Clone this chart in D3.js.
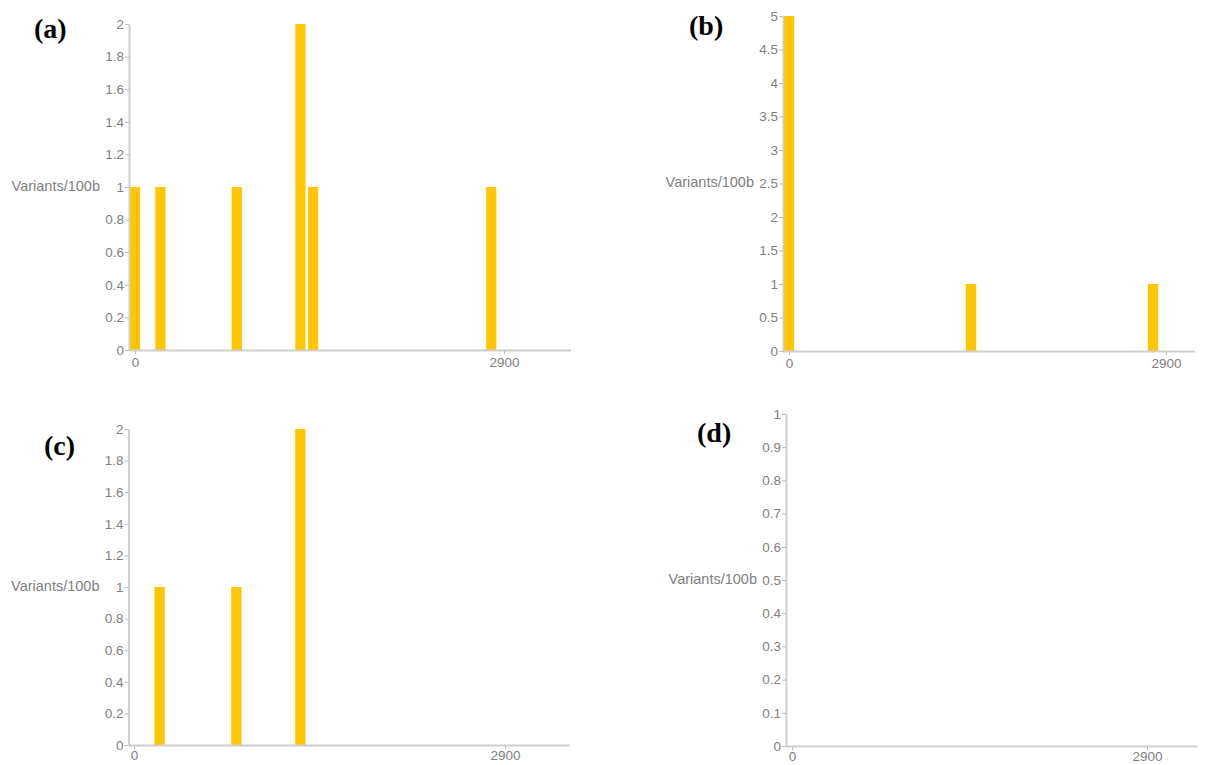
<!DOCTYPE html>
<html>
<head>
<meta charset="utf-8">
<script src="https://cdn.jsdelivr.net/npm/d3@7"></script>
<style>
  body { margin: 0; background: #fff; }
  .tick text { font-family: "Liberation Sans", Arial, sans-serif; }
</style>
</head>
<body>
<div id="chart"></div>
<script>
const width = 1210;
const height = 765;

// variant positions (bp, bin start) and counts per 100b, one pair per panel
const posA = [0, 200, 800, 1300, 1400, 2800];
const valA = [1, 1, 1, 2, 1, 1];
const posB = [0, 1400, 2800];
const valB = [5, 1, 1];
const posC = [200, 800, 1300];
const valC = [1, 1, 2];
const posD = [];
const valD = [];

const yTicksA = [0, 0.2, 0.4, 0.6, 0.8, 1, 1.2, 1.4, 1.6, 1.8, 2];
const yTicksB = [0, 0.5, 1, 1.5, 2, 2.5, 3, 3.5, 4, 4.5, 5];
const yTicksC = [0, 0.2, 0.4, 0.6, 0.8, 1, 1.2, 1.4, 1.6, 1.8, 2];
const yTicksD = [0, 0.1, 0.2, 0.3, 0.4, 0.5, 0.6, 0.7, 0.8, 0.9, 1];
const xTicks = [0, 2900];
const panelNames = ["(a)", "(b)", "(c)", "(d)"];
const yLabel = "Variants/100b";

const barColor = "#ffc600";
const binWidth = 80;

// screen layout of each panel (the source figure is a collage of 4 screenshots)
const layout = [
  {axisX: 129, zeroX: 135, tickX: 504, endX: 571, top: 24, bottom: 350, tx: 34, ty: 38, pad: 3},
  {axisX: 783, zeroX: 789, tickX: 1166, endX: 1195, top: 16, bottom: 351, tx: 689, ty: 35, pad: 3},
  {axisX: 128.5, zeroX: 134, tickX: 505, endX: 570, top: 429, bottom: 745, tx: 44, ty: 455, pad: 1},
  {axisX: 786, zeroX: 792, tickX: 1147, endX: 1198, top: 414, bottom: 746, tx: 697, ty: 442, pad: 1}
];

const panels = [
  {pos: posA, val: valA, yTicks: yTicksA},
  {pos: posB, val: valB, yTicks: yTicksB},
  {pos: posC, val: valC, yTicks: yTicksC},
  {pos: posD, val: valD, yTicks: yTicksD}
];

const svg = d3.select("#chart")
    .append("svg")
    .attr("width", width)
    .attr("height", height);

panels.forEach((p, i) => {
    const L = layout[i];
    const g = svg.append("g");

    const x = d3.scaleLinear()
        .domain([0, 2900])
        .range([L.zeroX, L.tickX]);

    const y = d3.scaleLinear()
        .domain([0, d3.max(p.yTicks)])
        .range([L.bottom, L.top]);

    // bars
    g.selectAll("rect")
        .data(p.pos.map((d, k) => ({pos: d, v: p.val[k]})))
        .enter().append("rect")
        .attr("x", d => x(d.pos - binWidth / 2))
        .attr("width", d => x(binWidth) - x(0))
        .attr("y", d => y(d.v))
        .attr("height", d => y(0) - y(d.v))
        .attr("fill", barColor);

    // y axis
    const yAxis = g.append("g")
        .attr("transform", `translate(${L.axisX},0)`)
        .call(d3.axisLeft(y)
            .tickValues(p.yTicks)
            .tickFormat(d3.format("~"))
            .tickSize(4)
            .tickSizeOuter(0)
            .tickPadding(1));
    yAxis.attr("font-size", 13.5);
    yAxis.select(".domain").attr("stroke", "#cfcfcf").attr("stroke-width", 2);
    yAxis.selectAll(".tick line").attr("stroke", "#bbb");
    yAxis.selectAll(".tick text").attr("fill", "#808080");

    // x axis baseline + ticks
    g.append("line")
        .attr("x1", L.axisX)
        .attr("x2", L.endX)
        .attr("y1", L.bottom + 0.5)
        .attr("y2", L.bottom + 0.5)
        .attr("stroke", "#cfcfcf")
        .attr("stroke-width", 2);

    const xAxis = g.append("g")
        .attr("transform", `translate(0,${L.bottom + 1})`)
        .call(d3.axisBottom(x)
            .tickValues(xTicks)
            .tickFormat(d3.format("d"))
            .tickSize(3)
            .tickPadding(L.pad));
    xAxis.attr("font-size", 13.5);
    xAxis.select(".domain").remove();
    xAxis.selectAll(".tick line").attr("stroke", "#bbb");
    xAxis.selectAll(".tick text").attr("fill", "#808080");

    // axis title
    g.append("text")
        .attr("x", L.axisX - 29)
        .attr("y", (L.top + L.bottom) / 2)
        .attr("text-anchor", "end")
        .attr("dominant-baseline", "middle")
        .attr("font-family", "Liberation Sans, Arial, sans-serif")
        .attr("font-size", 14.5)
        .attr("fill", "#808080")
        .text(yLabel);

    // panel letter
    g.append("text")
        .attr("x", L.tx)
        .attr("y", L.ty)
        .attr("font-family", "Liberation Serif, Times New Roman, serif")
        .attr("font-weight", "bold")
        .attr("font-size", 28)
        .attr("fill", "#000")
        .text(panelNames[i]);
});
</script>
</body>
</html>
